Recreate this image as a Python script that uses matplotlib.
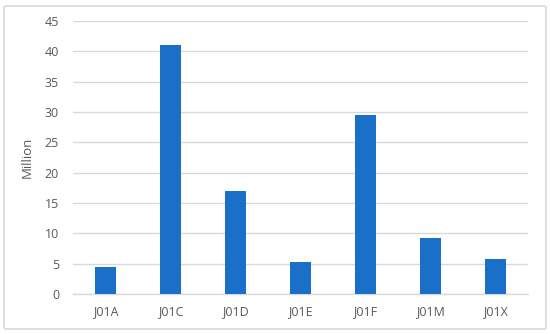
import matplotlib
matplotlib.use("Agg")
import matplotlib.pyplot as plt
from matplotlib.patches import FancyBboxPatch

categories = ["J01A", "J01C", "J01D", "J01E", "J01F", "J01M", "J01X"]
values = [4.5, 41.1, 17.0, 5.2, 29.5, 9.3, 5.7]
yticks = [0, 5, 10, 15, 20, 25, 30, 35, 40, 45]

plt.rcParams['font.family'] = ['Open Sans', 'DejaVu Sans']

fig = plt.figure(figsize=(5.5, 3.34), dpi=100)
fig.patch.set_facecolor('white')
border = FancyBboxPatch((4/550, 5/334), 542/550, 323/334,
                        boxstyle="round,pad=0,rounding_size=0.005",
                        transform=fig.transFigure, facecolor='none',
                        edgecolor='#d9d9d9', linewidth=1.2, zorder=-1)
fig.patches.append(border)

ax = fig.add_axes([73/550, 1 - 294/334, (528-73)/550, (294-21)/334])
ax.set_zorder(2)
ax.set_facecolor('none')
x = range(len(categories))
ax.bar(x, values, width=0.31, color='#1a70c8', zorder=3)
ax.set_xlim(-0.5, len(categories) - 0.5)
ax.set_ylim(0, 45)
ax.set_yticks(yticks)
ax.set_xticks(list(x))
ax.set_xticklabels(categories)
ax.grid(axis='y', color='#d9d9d9', linewidth=1, zorder=0)
for s in ['top', 'right', 'left']:
    ax.spines[s].set_visible(False)
ax.spines['bottom'].set_color('#d9d9d9')
ax.spines['bottom'].set_linewidth(1)
ax.tick_params(axis='both', length=0, labelsize=9, colors='#595959', pad=8)
ax.tick_params(axis='y', pad=10)
ax.set_ylabel('Million', fontsize=9.5, color='#595959', labelpad=8)

fig.savefig('out.png', dpi=100)
